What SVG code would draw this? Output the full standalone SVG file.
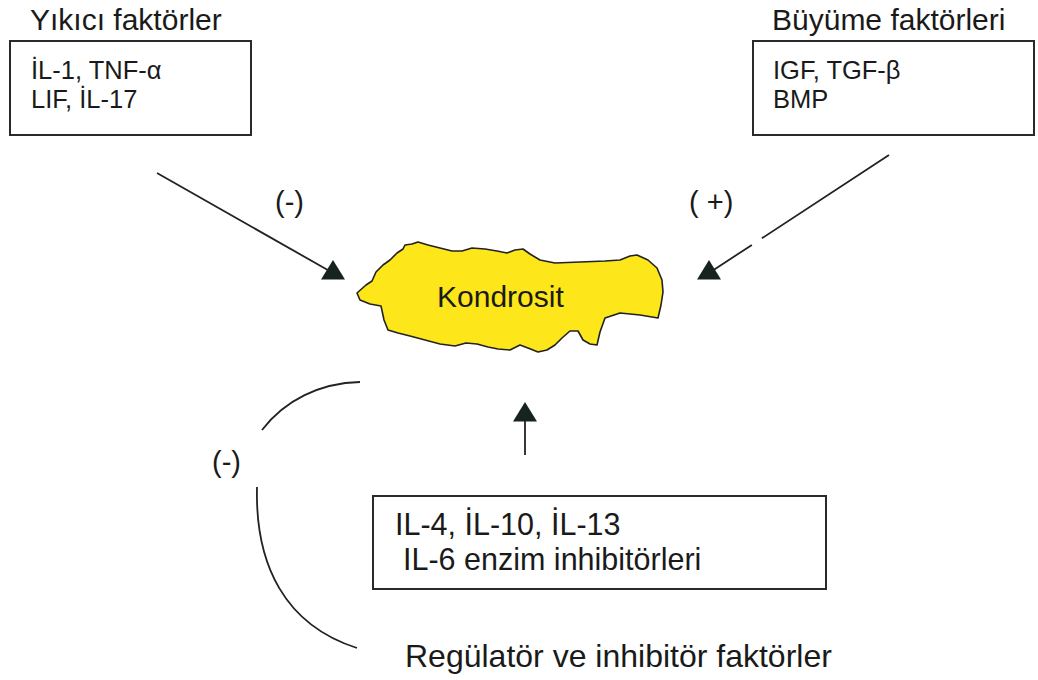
<svg xmlns="http://www.w3.org/2000/svg" width="1038" height="680" viewBox="0 0 1038 680">
<style>
text{font-family:"Liberation Sans",Arial,Helvetica,sans-serif;fill:#1a1a1a}
.title{font-size:30px}
.box{fill:#fff;stroke:#2a2a2a;stroke-width:2}
.bt{font-size:25.5px}
.bt2{font-size:30.5px}
.sign{font-size:29px}
.conn{fill:none;stroke:#222;stroke-width:1.8}
</style>
<defs>
<marker id="tri" markerUnits="userSpaceOnUse" markerWidth="24" markerHeight="20" refX="10.5" refY="11.3" orient="0" viewBox="0 0 21 17">
<polygon points="0,17 21,17 10.5,0" fill="#17231f"/>
</marker>
</defs>
<rect width="1038" height="680" fill="#fff"/>

<g id="yikici">
<text class="title" x="30" y="30">Yıkıcı faktörler</text>
<rect class="box" x="10" y="41" width="241" height="94"/>
<text class="bt" x="31" y="79">İL-1, TNF-α</text>
<text class="bt" x="31" y="108">LIF, İL-17</text>
</g>

<g id="buyume">
<text class="title" x="772" y="30">Büyüme faktörleri</text>
<rect class="box" x="753" y="41" width="281" height="94"/>
<text class="bt" x="773" y="79">IGF, TGF-β</text>
<text class="bt" x="773" y="108">BMP</text>
</g>

<g id="kondrosit">
<path d="M357,293 L366,285 L372,281 L376,272 L383,265 L390,260 L397,253 L403,249 L405,245 L412,244 L418,242 L428,245 L440,248 L452,251 L462,251 L472,248 L485,249 L497,251 L507,253 L515,250 L523,249 L530,254 L540,260 L555,263 L580,262 L605,261 L620,260 L630,256 L637,255 L648,260 L657,268 L662,280 L663,292 L661,305 L658,318 L640,315 L620,313 L605,318 L600,332 L597,345 L590,344 L583,340 L578,331 L570,331 L562,338 L555,345 L547,350 L538,352 L528,348 L520,345 L510,350 L498,349 L488,347 L477,344 L466,343 L455,346 L440,344 L425,340 L410,336 L398,333 L388,330 L384,320 L381,306 L370,304 L360,300 Z" fill="#fde619" stroke="#222" stroke-width="1.6" stroke-linejoin="round"/>
<text x="437" y="307" font-size="30">Kondrosit</text>
</g>

<g id="regulator">
<rect class="box" x="373" y="496" width="453" height="93"/>
<text class="bt2" x="395" y="535">IL-4, İL-10, İL-13</text>
<text class="bt2" x="403" y="570">IL-6 enzim inhibitörleri</text>
<text x="405" y="667" font-size="32">Regülatör ve inhibitör faktörler</text>
</g>

<g id="connectors">
<line class="conn" x1="157" y1="173" x2="333" y2="273" marker-end="url(#tri)"/>
<line class="conn" x1="889" y1="155" x2="709" y2="273" stroke-dasharray="152 12 500" marker-end="url(#tri)"/>
<line class="conn" x1="525" y1="455" x2="525" y2="415" marker-end="url(#tri)"/>
<path class="conn" d="M262,430 C285,400 320,383 360,382"/>
<path class="conn" d="M257,487 C255,565 285,625 357,648"/>
<text class="sign" x="275" y="212">(-)</text>
<text class="sign" x="689" y="212">( +)</text>
<text class="sign" x="212" y="472">(-)</text>
</g>
</svg>
